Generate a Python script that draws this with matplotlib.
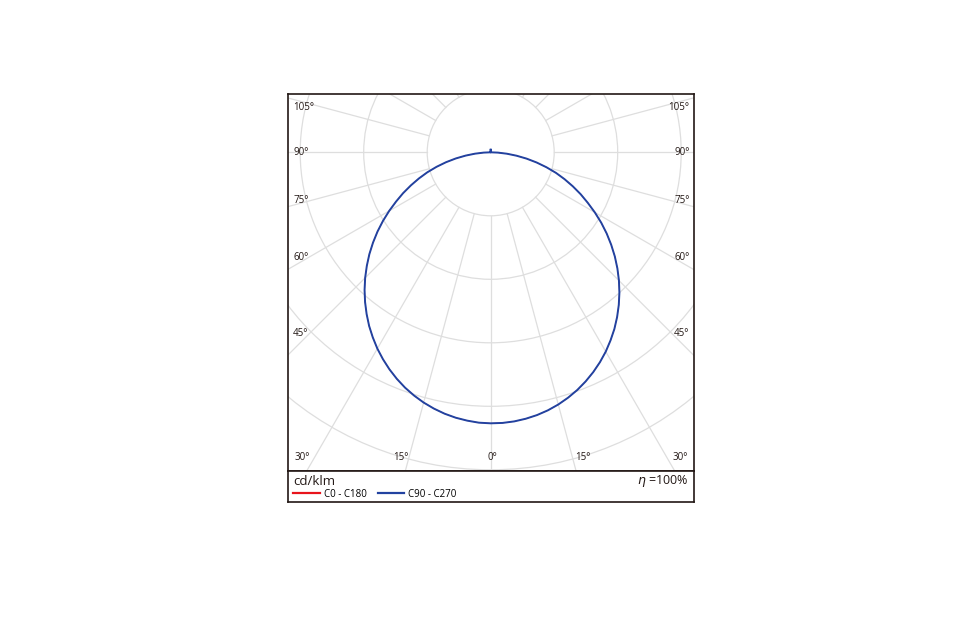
import numpy as np
import matplotlib.pyplot as plt
from matplotlib.patches import Circle

# intensidad luminosa en cd/klm, angulos gamma cada 2.5 grados
gamma = [0, 2.5, 5, 7.5, 10, 12.5, 15, 17.5, 20, 22.5, 25, 27.5, 30, 32.5, 35, 37.5,
         40, 42.5, 45, 47.5, 50, 52.5, 55, 57.5, 60, 62.5, 65, 67.5, 70, 72.5, 75,
         77.5, 80, 82.5, 85, 87.5, 90, 100, 120, 140, 160, 175, 180]
c90 = [213.4, 213.3, 212.7, 211.6, 210.1, 208.1, 205.6, 202.6, 199.2, 195.3, 191.0, 186.3,
       181.2, 175.6, 169.8, 163.5, 156.9, 150.0, 142.8, 135.3, 127.6, 119.6, 111.5, 103.2,
       94.7, 86.2, 78.2, 70.0, 61.9, 53.9, 45.4, 37.0, 28.7, 20.5, 12.8, 5.7, 0,
       0, 0, 0, 0, 1, 2]
c270 = [213.4, 213.1, 212.1, 210.8, 209.0, 206.7, 204.0, 200.8, 197.2, 193.1, 188.6, 183.7,
        178.5, 172.8, 166.9, 160.5, 153.9, 147.0, 139.8, 132.3, 124.7, 116.8, 108.8, 100.6,
        92.3, 84.0, 76.1, 68.0, 60.1, 52.3, 44.1, 36.0, 27.9, 19.9, 12.4, 5.5, 0,
        0, 0, 0, 0, 1, 2]
# C0-C180 coincide con C90-C270 (queda tapada)
c0 = c90
c180 = c270

ring_step = 50
rings = [50, 100, 150, 200, 250, 300, 350]
labels_side = ['105°', '90°', '75°', '60°', '45°']
labels_bottom = ['30°', '15°', '0°', '15°', '30°']

plt.rcParams['font.family'] = ['Open Sans', 'DejaVu Sans']

fig = plt.figure(figsize=(9.73, 6.44), dpi=100)
W, H = 973, 644
L, R, T, B, S = 288.3, 694.3, 94.3, 501.7, 471.0

ax = fig.add_axes([L / W, (H - S) / H, (R - L) / W, (S - T) / H])
px = ring_step / 63.5
cx, cy = 490.7, 152.3
ax.set_xlim((L - cx) * px, (R - cx) * px)
ax.set_ylim(-(S - cy) * px, (cy - T) * px)
ax.set_xticks([])
ax.set_yticks([])
for sp in ax.spines.values():
    sp.set_linewidth(1.2)
    sp.set_color('#231815')

# rejilla polar
grid_c = '#dedede'
for r in rings:
    ax.add_patch(Circle((0, 0), r, fill=False, ec=grid_c, lw=0.9, zorder=1))
for a in np.arange(0, 360, 15):
    t = np.radians(a)
    ax.plot([50 * np.sin(t), 500 * np.sin(t)], [-50 * np.cos(t), -500 * np.cos(t)],
            color=grid_c, lw=0.9, zorder=1)

# curvas
g = np.radians(gamma)
I0, I180 = np.array(c0), np.array(c180)
I90, I270 = np.array(c90), np.array(c270)
x_red = np.concatenate([-(I180 * np.sin(g))[::-1], I0 * np.sin(g)])
y_red = np.concatenate([-(I180 * np.cos(g))[::-1], -I0 * np.cos(g)])
x_blue = np.concatenate([-(I270 * np.sin(g))[::-1], I90 * np.sin(g)])
y_blue = np.concatenate([-(I270 * np.cos(g))[::-1], -I90 * np.cos(g)])
red_line, = ax.plot(x_red, y_red, color='#e8141c', lw=0.5, zorder=3, label='C0 - C180')
blue_line, = ax.plot(x_blue, y_blue, color='#2242a0', lw=1.4, zorder=4, label='C90 - C270',
                     solid_joinstyle='round')

# etiquetas de angulos
fs = 7
ys = [107, 152, 200, 257, 333]
for lab, yp in zip(labels_side, ys):
    yf = (S - yp) / (S - T)
    ax.text(0.012, yf, lab, transform=ax.transAxes, ha='left', va='center', fontsize=fs, color='#231815')
    ax.text(0.988, yf, lab, transform=ax.transAxes, ha='right', va='center', fontsize=fs, color='#231815')
yb = (S - 457) / (S - T)
xb = [(295 - L) / (R - L), (401 - L) / (R - L), (492 - L) / (R - L), (583 - L) / (R - L), (688 - L) / (R - L)]
has = ['left', 'center', 'center', 'center', 'right']
for lab, xf, ha in zip(labels_bottom, xb, has):
    ax.text(xf, yb, lab, transform=ax.transAxes, ha=ha, va='center', fontsize=fs, color='#231815')

# zona de leyenda
axl = fig.add_axes([L / W, (H - B) / H, (R - L) / W, (B - S) / H])
axl.set_xticks([])
axl.set_yticks([])
for sp in axl.spines.values():
    sp.set_linewidth(1.2)
    sp.set_color('#231815')
axl.text(5 / (R - L), 0.66, 'cd/klm', transform=axl.transAxes, ha='left', va='center', fontsize=9.5, color='#231815')
axl.text(0.985, 0.66, r'$\eta$ =100%', transform=axl.transAxes, ha='right', va='center', fontsize=9, color='#231815')
leg = axl.legend(handles=[red_line, blue_line], loc='lower left', bbox_to_anchor=(0.008, 0.0), ncol=2,
                 frameon=False, fontsize=7, handlelength=2.7, handletextpad=0.4, columnspacing=1.2,
                 borderaxespad=0, borderpad=0.2)
for h in leg.legend_handles:
    h.set_linewidth(1.6)

fig.savefig('out.png', dpi=100)
